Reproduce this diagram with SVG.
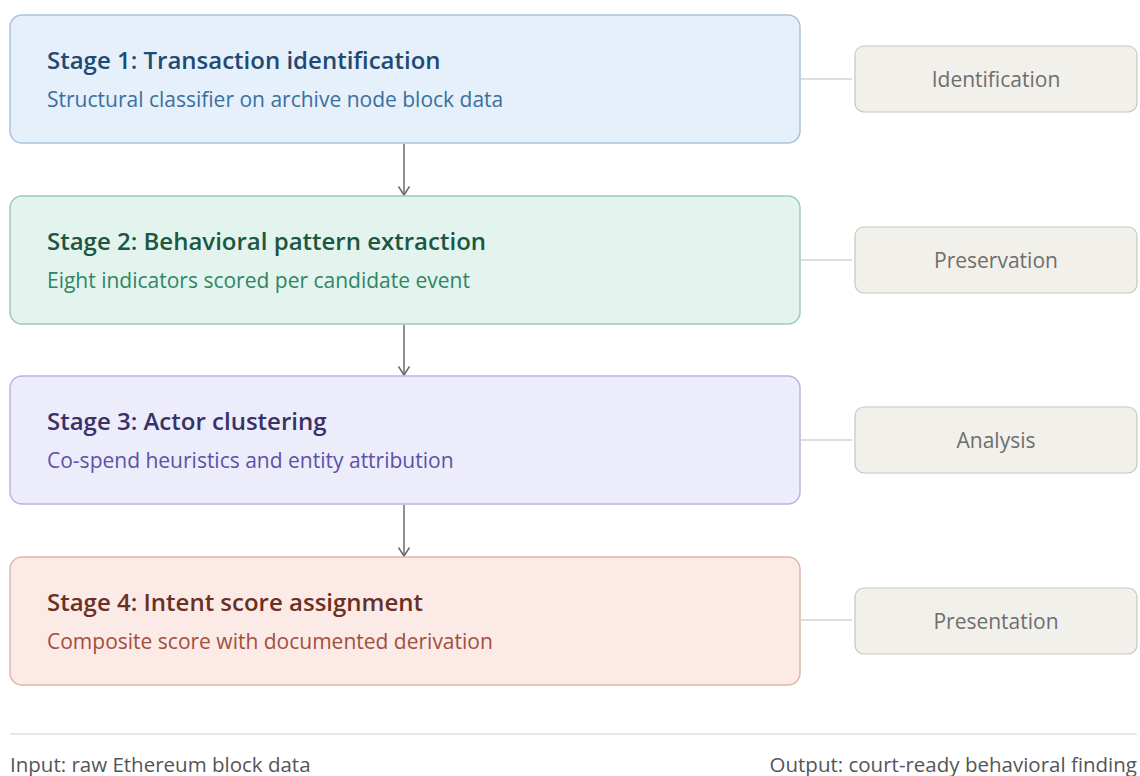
<svg xmlns="http://www.w3.org/2000/svg" width="1140" height="776" viewBox="0 0 1140 776">
  <defs>
    <marker id="arrow" viewBox="0 0 12 14" refX="10.5" refY="7" markerWidth="12" markerHeight="14" markerUnits="userSpaceOnUse" orient="auto">
      <path d="M2,1.5 L10.5,7 L2,12.5" fill="none" stroke="#6b6b6b" stroke-width="1.5" stroke-linejoin="miter"/>
    </marker>
    <style>
      text { font-family: "Open Sans", "Noto Sans", "DejaVu Sans", sans-serif; }
      .title { font-size: 24px; font-weight: 600; }
      .sub { font-size: 21px; font-weight: 400; }
      .tag { font-size: 21px; fill: #6e6e6e; text-anchor: middle; }
      .tagbox { fill: #f2f0eb; stroke: #c9c6bf; stroke-width: 1.2; }
      .stub { stroke: #d3d3d3; stroke-width: 1.5; fill: none; }
      .flow { stroke: #6b6b6b; stroke-width: 1.5; fill: none; }
      .foot { font-size: 20.5px; fill: #555555; }
    </style>
  </defs>

  <rect width="1140" height="776" fill="#ffffff"/>

  <!-- connectors -->
  <g id="connectors">
    <line class="flow" x1="404" y1="144" x2="404" y2="195" marker-end="url(#arrow)"/>
    <line class="flow" x1="404" y1="325" x2="404" y2="375" marker-end="url(#arrow)"/>
    <line class="flow" x1="404" y1="505" x2="404" y2="556" marker-end="url(#arrow)"/>
    <line class="stub" x1="801" y1="79" x2="852" y2="79"/>
    <line class="stub" x1="801" y1="260" x2="852" y2="260"/>
    <line class="stub" x1="801" y1="440" x2="852" y2="440"/>
    <line class="stub" x1="801" y1="620" x2="852" y2="620"/>
  </g>

  <!-- pipeline stages -->
  <g id="stage1">
    <rect x="10" y="15" width="790" height="128" rx="12" fill="#e6f0fb" stroke="#a9c3dc" stroke-width="1.5"/>
    <text class="title" x="47" y="69" fill="#1f4a73">Stage 1: Transaction identification</text>
    <text class="sub" x="47" y="107" fill="#3a6f9e">Structural classifier on archive node block data</text>
  </g>
  <g id="stage2">
    <rect x="10" y="196" width="790" height="128" rx="12" fill="#e3f4ee" stroke="#9ccbb9" stroke-width="1.5"/>
    <text class="title" x="47" y="250" fill="#1b5742">Stage 2: Behavioral pattern extraction</text>
    <text class="sub" x="47" y="288" fill="#2f8566">Eight indicators scored per candidate event</text>
  </g>
  <g id="stage3">
    <rect x="10" y="376" width="790" height="128" rx="12" fill="#edecfb" stroke="#b8b4e0" stroke-width="1.5"/>
    <text class="title" x="47" y="430" fill="#373268">Stage 3: Actor clustering</text>
    <text class="sub" x="47" y="468" fill="#5a53a6">Co-spend heuristics and entity attribution</text>
  </g>
  <g id="stage4">
    <rect x="10" y="557" width="790" height="128" rx="12" fill="#fbeae6" stroke="#e0b6ac" stroke-width="1.5"/>
    <text class="title" x="47" y="611" fill="#6a3024">Stage 4: Intent score assignment</text>
    <text class="sub" x="47" y="649" fill="#a24e3e">Composite score with documented derivation</text>
  </g>

  <!-- phase tags -->
  <g id="tag-identification">
    <rect class="tagbox" x="855" y="46" width="282" height="66" rx="9"/>
    <text class="tag" x="996" y="87">Identification</text>
  </g>
  <g id="tag-preservation">
    <rect class="tagbox" x="855" y="227" width="282" height="66" rx="9"/>
    <text class="tag" x="996" y="268">Preservation</text>
  </g>
  <g id="tag-analysis">
    <rect class="tagbox" x="855" y="407" width="282" height="66" rx="9"/>
    <text class="tag" x="996" y="448">Analysis</text>
  </g>
  <g id="tag-presentation">
    <rect class="tagbox" x="855" y="588" width="282" height="66" rx="9"/>
    <text class="tag" x="996" y="629">Presentation</text>
  </g>

  <!-- footer -->
  <g id="footer">
    <line x1="10" y1="734" x2="1137" y2="734" stroke="#e6e6e6" stroke-width="2"/>
    <text class="foot" x="10" y="772">Input: raw Ethereum block data</text>
    <text class="foot" x="1137" y="772" text-anchor="end">Output: court-ready behavioral finding</text>
  </g>
</svg>
